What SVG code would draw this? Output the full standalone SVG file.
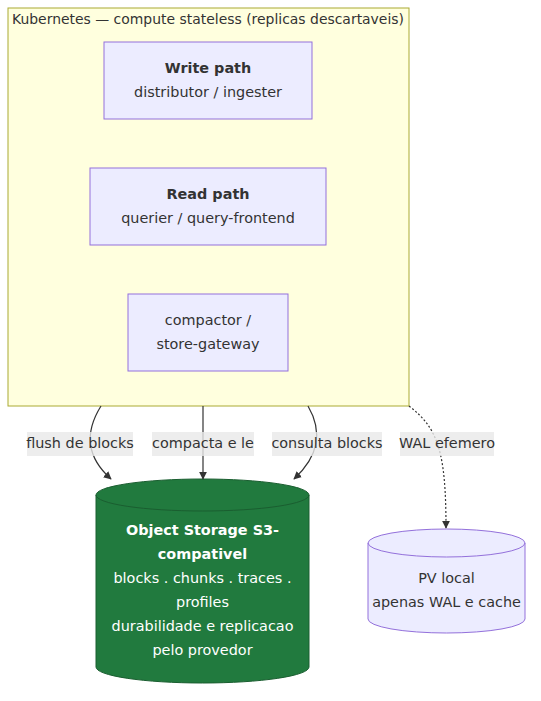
<svg xmlns="http://www.w3.org/2000/svg" width="541" height="701" viewBox="0 0 541 701">
<style>
text{font-family:"DejaVu Sans","Open Sans",sans-serif;font-size:14.4px;fill:#333;text-anchor:middle;dominant-baseline:central}
.b{font-weight:bold}
.w{fill:#fff}
.node{fill:#ececff;stroke:#9370db;stroke-width:1}
.edge{fill:none;stroke:#333;stroke-width:1.2}
.lbl{fill:#e8e8e8;opacity:0.8}
</style>
<defs>
<marker id="ah" viewBox="0 0 10 10" refX="9" refY="5" markerWidth="8" markerHeight="8" orient="auto" markerUnits="userSpaceOnUse">
<path d="M0,0L10,5L0,10z" fill="#333"/>
</marker>
</defs>
<g id="cluster-k8s">
<rect x="8" y="8" width="401" height="398" fill="#ffffde" stroke="#aaaa33" stroke-width="1"/>
<text x="208" y="19" textLength="392" lengthAdjust="spacingAndGlyphs">Kubernetes — compute stateless (replicas descartaveis)</text>
</g>
<g id="node-write">
<rect class="node" x="104" y="42" width="208" height="77"/>
<text class="b" x="208" y="68">Write path</text>
<text x="208" y="92">distributor / ingester</text>
</g>
<g id="node-read">
<rect class="node" x="90" y="168" width="236" height="77"/>
<text class="b" x="208" y="194">Read path</text>
<text x="208" y="218">querier / query-frontend</text>
</g>
<g id="node-compactor">
<rect class="node" x="128" y="294" width="160" height="77"/>
<text x="208" y="320">compactor /</text>
<text x="208" y="344">store-gateway</text>
</g>
<g id="node-s3">
<path d="M96,495 A106.5,16 0 0 1 309,495 L309,667 A106.5,16 0 0 1 96,667 Z" fill="#217a3e" stroke="#1a5e30" stroke-width="1"/>
<path d="M96,495 A106.5,16 0 0 0 309,495" fill="none" stroke="#1a5e30" stroke-width="1"/>
<text class="b w" x="202.5" y="530">Object Storage S3-</text>
<text class="b w" x="202.5" y="554">compativel</text>
<text class="w" x="202.5" y="578">blocks . chunks . traces .</text>
<text class="w" x="202.5" y="602">profiles</text>
<text class="w" x="202.5" y="626">durabilidade e replicacao</text>
<text class="w" x="202.5" y="650">pelo provedor</text>
</g>
<g id="node-pv">
<path d="M368,543 A78.5,14 0 0 1 525,543 L525,619 A78.5,14 0 0 1 368,619 Z" fill="#ececff" stroke="#9370db" stroke-width="1"/>
<path d="M368,543 A78.5,14 0 0 0 525,543" fill="none" stroke="#9370db" stroke-width="1"/>
<text x="446.5" y="578">PV local</text>
<text x="446.5" y="602">apenas WAL e cache</text>
</g>
<g id="connectors">
<path class="edge" d="M101,406 C86,430 84,455 111,479" marker-end="url(#ah)"/>
<path class="edge" d="M203,406 L203,479" marker-end="url(#ah)"/>
<path class="edge" d="M308,406 C322,430 320,455 294,479" marker-end="url(#ah)"/>
<path class="edge" d="M409,406 C438,428 446,452 446,528" stroke-dasharray="2,2" marker-end="url(#ah)"/>
<rect class="lbl" x="27" y="432" width="106" height="24"/>
<text x="80" y="443">flush de blocks</text>
<rect class="lbl" x="152" y="432" width="102" height="24"/>
<text x="203" y="443">compacta e le</text>
<rect class="lbl" x="272" y="432" width="110" height="24"/>
<text x="327" y="443">consulta blocks</text>
<rect class="lbl" x="400" y="432" width="94" height="24"/>
<text x="447" y="443">WAL efemero</text>
</g>
</svg>
